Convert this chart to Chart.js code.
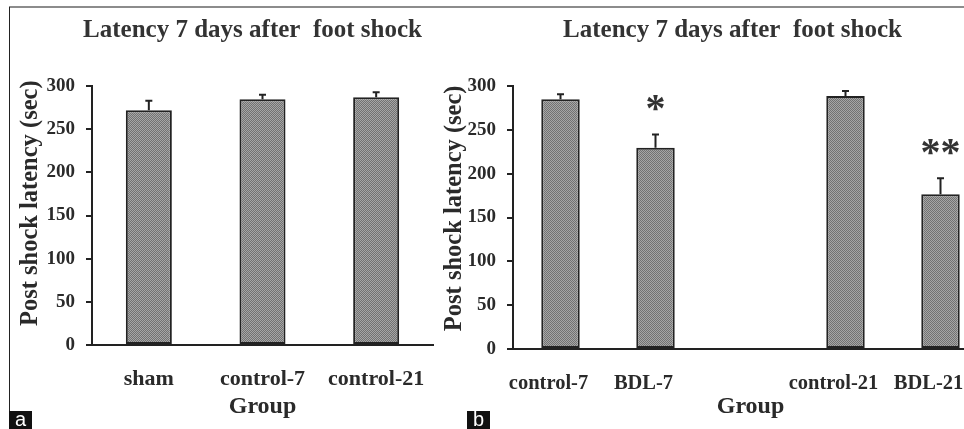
<!DOCTYPE html>
<html>
<head>
<meta charset="utf-8">
<script src="https://cdn.jsdelivr.net/npm/chart.js@4.4.1/dist/chart.umd.min.js"></script>
<style>
  html, body { margin: 0; padding: 0; background: #fff; }
  body { width: 964px; height: 429px; position: relative; overflow: hidden; }
  .panel { position: absolute; top: 8px; height: 421px; }
  #wrapA { left: 9px; width: 487px; }
  #wrapB { left: 440px; width: 585px; }
  .frameTop { position: absolute; left: 9px; top: 6px; width: 955px; height: 2px; background: #8c8c8c; }
  .frameLeft { position: absolute; left: 9px; top: 7px; width: 1px; height: 422px; background: #222; }
  .tag { position: absolute; top: 411px; width: 23px; height: 18px; background: #111; color: #fff;
         font: 20px "Liberation Sans", Arial, sans-serif; line-height: 17px; text-align: center; }
</style>
</head>
<body>
<div class="frameTop"></div>
<div class="frameLeft"></div>
<div class="panel" id="wrapA"><canvas id="chartA" width="487" height="421"></canvas></div>
<div class="panel" id="wrapB"><canvas id="chartB" width="585" height="421"></canvas></div>
<div class="tag" style="left:9px">a</div>
<div class="tag" style="left:467px">b</div>

<script>
// panel a
const groupsA = ['sham', 'control-7', 'control-21'];
const latencyA = [272, 284.6, 287];
const semA = [10.8, 5.4, 5.8];
const starsA = ['', '', ''];

// panel b (empty slot between the 7 and 21 day groups)
const groupsB = ['control-7', 'BDL-7', '', 'control-21', 'BDL-21'];
const latencyB = [285, 229.5, null, 288.5, 176.5];
const semB = [5.7, 15.3, null, 5.7, 18.2];
const starsB = ['', '*', '', '', '**'];

const yTicks = [0, 50, 100, 150, 200, 250, 300];

const serif = '"Liberation Serif", "Times New Roman", serif';
const ink = '#2a2a2a';

// dotted grey fill like the printed bars
function makeDots() {
    const c = document.createElement('canvas');
    c.width = 2; c.height = 2;
    const g = c.getContext('2d');
    g.fillStyle = '#a6a6a6';
    g.fillRect(0, 0, 2, 2);
    g.fillStyle = '#727272';
    g.fillRect(0, 0, 1, 1);
    g.fillRect(1, 1, 1, 1);
    return g.createPattern(c, 'repeat');
}

// upper error bars + significance stars
const errorBars = {
    id: 'errorBars',
    afterDatasetsDraw(chart, args, opts) {
        const meta = chart.getDatasetMeta(0);
        const y = chart.scales.y;
        const values = chart.data.datasets[0].data;
        const ctx = chart.ctx;
        ctx.save();
        ctx.strokeStyle = '#222';
        ctx.lineWidth = 2;
        meta.data.forEach((bar, i) => {
            const v = values[i];
            const e = opts.errors[i];
            if (v == null || !e) return;
            const top = y.getPixelForValue(v + e);
            ctx.beginPath();
            ctx.moveTo(bar.x, bar.y);
            ctx.lineTo(bar.x, top);
            ctx.moveTo(bar.x - 3.5, top);
            ctx.lineTo(bar.x + 3.5, top);
            ctx.stroke();
            if (opts.stars[i]) {
                ctx.fillStyle = '#333';
                ctx.font = 'bold 40px ' + serif;
                ctx.textAlign = 'center';
                ctx.textBaseline = 'middle';
                ctx.fillText(opts.stars[i], bar.x, top - 24);
            }
        });
        ctx.restore();
    }
};

function makePanel(canvasId, labels, values, errors, stars, cfg) {
    const ctx = document.getElementById(canvasId).getContext('2d');
    return new Chart(ctx, {
        type: 'bar',
        data: {
            labels: labels,
            datasets: [{
                data: values,
                backgroundColor: makeDots(),
                borderColor: '#222',
                borderWidth: 2,
                borderSkipped: false,
                barPercentage: 0.405,
                categoryPercentage: 1
            }]
        },
        plugins: [errorBars],
        options: {
            responsive: false,
            animation: false,
            layout: { padding: 0 },
            plugins: {
                legend: { display: false },
                tooltip: { enabled: false },
                title: {
                    display: true,
                    text: 'Latency 7 days after  foot shock',
                    color: '#333',
                    font: { family: serif, size: 25, weight: 'bold' },
                    padding: { top: 8, bottom: 40 }
                },
                errorBars: { errors: errors, stars: stars }
            },
            scales: {
                x: {
                    grid: { display: false, drawTicks: false },
                    border: { display: true, color: '#222', width: 2 },
                    ticks: {
                        padding: cfg.xPad,
                        labelOffset: cfg.xShift,
                        autoSkip: false,
                        maxRotation: 0,
                        minRotation: 0,
                        color: ink,
                        font: { family: serif, size: cfg.xFont, weight: 'bold' }
                    },
                    title: {
                        display: true,
                        text: 'Group',
                        color: ink,
                        font: { family: serif, size: 24, weight: 'bold' },
                        padding: { top: 0, bottom: 8 }
                    },
                    afterFit: s => { s.height = cfg.xHeight; }
                },
                y: {
                    min: 0,
                    max: 300,
                    afterBuildTicks: s => { s.ticks = yTicks.map(v => ({ value: v })); },
                    grid: { drawOnChartArea: false, drawTicks: true, tickLength: 6, color: '#222', lineWidth: 2 },
                    border: { display: true, color: '#222', width: 2 },
                    ticks: {
                        padding: 11,
                        color: ink,
                        font: { family: serif, size: 19, weight: 'bold' }
                    },
                    title: {
                        display: true,
                        // leading spaces lift the rotated label a little, as in the original
                        text: cfg.yTitleShift + 'Post shock latency (sec)',
                        color: ink,
                        font: { family: serif, size: 24.5, weight: 'bold' },
                        padding: { top: cfg.yTitlePad, bottom: 0 }
                    },
                    afterFit: s => { s.width = cfg.yWidth; }
                },
                // empty right-hand gap so the title centres on the whole panel
                gap: {
                    type: 'linear',
                    position: 'right',
                    ticks: { display: false },
                    grid: { display: false },
                    border: { display: false },
                    afterFit: s => { s.width = cfg.rightGap; }
                }
            }
        }
    });
}

makePanel('chartA', groupsA, latencyA, semA, starsA,
    { rightGap: 63, xHeight: 84, xPad: 21, xShift: 0, xFont: 22, yWidth: 83, yTitlePad: 7, yTitleShift: '    ' });
makePanel('chartB', groupsB, latencyB, semB, starsB,
    { rightGap: 37, xHeight: 80, xPad: 22, xShift: -12, xFont: 20.5, yWidth: 73, yTitlePad: 0, yTitleShift: '   ' });
</script>
</body>
</html>
